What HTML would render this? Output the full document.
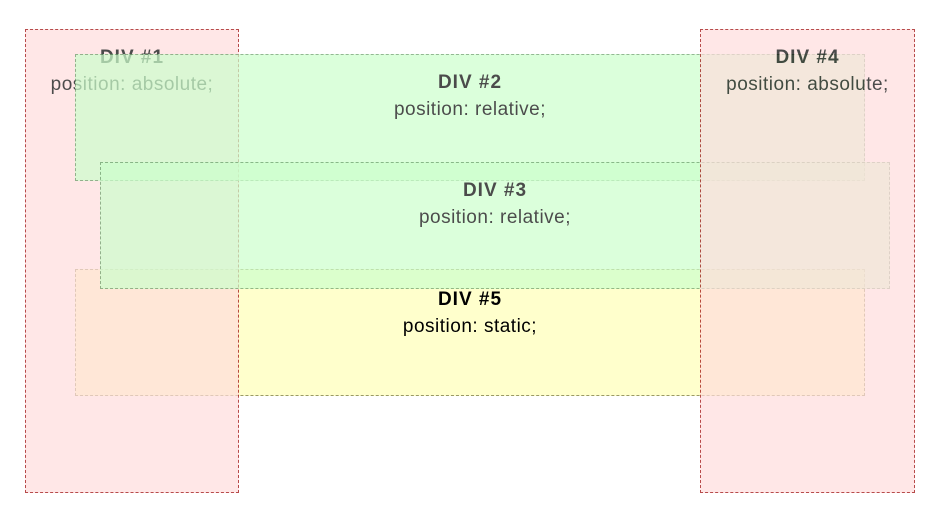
<!DOCTYPE html>
<html><head><style>
html,body{margin:0;padding:0;background:#fff;width:934px;height:525px;overflow:hidden;font-family:"Liberation Sans",sans-serif;}
.b{position:absolute;box-sizing:border-box;text-align:center;padding-top:14px;font-size:19px;letter-spacing:0.5px;line-height:27px;color:#000;}
.b b{display:block;font-size:19px;letter-spacing:1px;}
.abs{background:#fdd;border:1px dashed #900;opacity:.7;}
.rel{background:#cfc;border:1px dashed #696;opacity:.7;}
.sta{background:#ffc;border:1px dashed #996;}
</style></head><body>
<div class="b sta" style="left:75px;top:269px;width:790px;height:127px;z-index:0;padding-top:16px"><b>DIV #5</b>position: static;</div>
<div class="b abs" style="left:25px;top:29px;width:214px;height:464px;z-index:1"><b>DIV #1</b>position: absolute;</div>
<div class="b rel" style="left:75px;top:54px;width:790px;height:127px;z-index:2"><b>DIV #2</b>position: relative;</div>
<div class="b rel" style="left:100px;top:162px;width:790px;height:127px;z-index:3"><b>DIV #3</b>position: relative;</div>
<div class="b abs" style="left:700px;top:29px;width:215px;height:464px;z-index:4"><b>DIV #4</b>position: absolute;</div>
</body></html>
